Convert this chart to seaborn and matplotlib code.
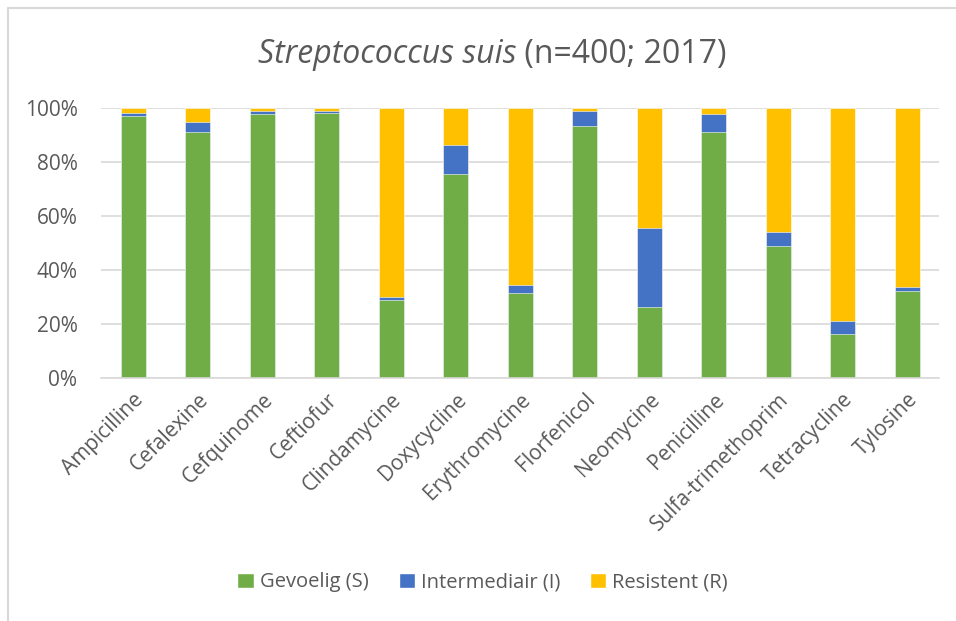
import numpy as np
import pandas as pd
import seaborn as sns
import matplotlib
matplotlib.use("Agg")
import matplotlib.pyplot as plt
from matplotlib.patches import Patch
from matplotlib.lines import Line2D
from matplotlib.ticker import PercentFormatter

# Data (percent of isolates)
antibiotics = ['Ampicilline', 'Cefalexine', 'Cefquinome', 'Ceftiofur', 'Clindamycine',
               'Doxycycline', 'Erythromycine', 'Florfenicol', 'Neomycine', 'Penicilline',
               'Sulfa-trimethoprim', 'Tetracycline', 'Tylosine']
gevoelig = [97.0, 91.0, 97.7, 98.0, 29.0, 75.7, 31.7, 93.2, 26.5, 91.0, 48.8, 16.2, 32.2]
intermediair = [1.0, 4.0, 1.2, 1.0, 1.0, 10.5, 2.7, 5.7, 29.0, 6.8, 5.3, 4.9, 1.5]
resistent = [2.0, 5.0, 1.1, 1.0, 70.0, 13.8, 65.6, 1.1, 44.5, 2.2, 45.9, 78.9, 66.3]

labels = ['Gevoelig (S)', 'Intermediair (I)', 'Resistent (R)']
colors = ['#70AD47', '#4472C4', '#FFC000']

df = pd.DataFrame({'antibiotic': antibiotics, 'S': gevoelig, 'I': intermediair, 'R': resistent})
df['SI'] = df['S'] + df['I']
df['SIR'] = df['SI'] + df['R']

sns.set_style("white")
plt.rcParams['font.family'] = ['Open Sans', 'DejaVu Sans']

fig = plt.figure(figsize=(9.56, 6.21), dpi=100)
ax = fig.add_axes([0.1057, 0.391, 0.877, 0.435])

# stacked: draw cumulative layers from top to bottom
for col, c in zip(['SIR', 'SI', 'S'], colors[::-1]):
    sns.barplot(data=df, x='antibiotic', y=col, color=c, width=0.39,
                saturation=1, ax=ax, edgecolor='white', linewidth=0.4)

ax.set_ylim(0, 100)
ax.set_xlim(-0.5, len(antibiotics) - 0.5)
ax.set_yticks([0, 20, 40, 60, 80, 100])
ax.yaxis.set_major_formatter(PercentFormatter(decimals=0))
ax.grid(axis='y', color='#D9D9D9', linewidth=1.2)
ax.set_axisbelow(True)
for s in ['top', 'right', 'left']:
    ax.spines[s].set_visible(False)
ax.spines['bottom'].set_color('#D9D9D9')
ax.spines['bottom'].set_linewidth(1.2)
ax.set_xlabel('')
ax.set_ylabel('')
ax.tick_params(axis='both', length=0, labelsize=15, colors='#595959')
ax.tick_params(axis='y', pad=17)
ax.tick_params(axis='x', pad=8)
plt.setp(ax.get_xticklabels(), rotation=45, ha='right', rotation_mode='anchor')

fig.text(0.54, 0.912, 'Streptococcus suis', style='italic', ha='right', va='center',
         fontsize=23, color='#595959')
fig.text(0.54, 0.912, ' (n=400; 2017)', ha='left', va='center',
         fontsize=23, color='#595959')

handles = [Patch(facecolor=c, label=l) for c, l in zip(colors, labels)]
fig.legend(handles=handles, loc='center', bbox_to_anchor=(0.505, 0.062), ncol=3,
           frameon=False, fontsize=14.5, labelcolor='#595959', handlelength=0.8,
           handleheight=0.8, handletextpad=0.3, columnspacing=1.5)

# chart frame edges visible in the reference
fig.add_artist(Line2D([0.0085, 0.0085], [0.0, 0.987], color='#D9D9D9', lw=1.5,
                      transform=fig.transFigure))
fig.add_artist(Line2D([0.0085, 1.0], [0.987, 0.987], color='#D9D9D9', lw=1.5,
                      transform=fig.transFigure))

fig.savefig('out.png', dpi=100)
